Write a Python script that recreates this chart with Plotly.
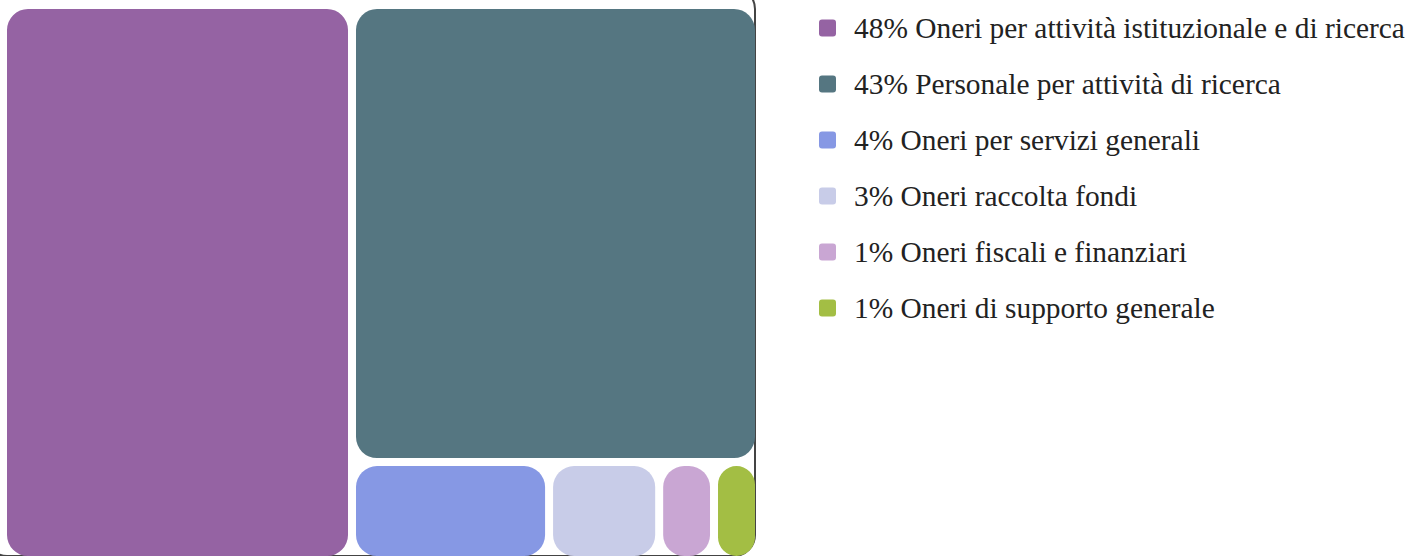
import plotly.graph_objects as go

labels = ["Oneri per attività istituzionale e di ricerca", "Personale per attività di ricerca",
          "Oneri per servizi generali", "Oneri raccolta fondi",
          "Oneri fiscali e finanziari", "Oneri di supporto generale"]
values = [46.16, 44.33, 4.60, 2.57, 1.28, 1.05]
pct_labels = ["48%", "43%", "4%", "3%", "1%", "1%"]
colors = ["#9563A3", "#557681", "#8698E4", "#C8CCE8", "#C9A6D3", "#A3BE44"]

# The treemap's corner radius is capped by the top/left padding, so the page
# is shifted up-left by a few pixels to keep the tiles where the reference has them.
OFF_X, OFF_Y = 14, 12
W, H = 1423 + OFF_X, 556 + OFF_Y

fig = go.Figure(go.Treemap(
    labels=labels,
    parents=[""] * len(labels),
    values=values,
    sort=False,
    textinfo="none",
    hoverinfo="label+value",
    pathbar=dict(visible=False),
    root=dict(color="rgba(0,0,0,0)"),
    marker=dict(colors=colors, cornerradius=21,
                line=dict(width=0, color="rgba(0,0,0,0)"),
                pad=dict(t=21, l=21, r=0, b=0)),
    tiling=dict(pad=8),
    domain=dict(x=[0, (755 + OFF_X) / W], y=[0, 1]),
))


def px(x):
    return (x + OFF_X) / W


def py(y):
    return 1 - (y + OFF_Y) / H


def rounded_square(x0, y0, x1, y1, r):
    return (f"M {px(x0 + r)},{py(y0)} L {px(x1 - r)},{py(y0)} Q {px(x1)},{py(y0)} {px(x1)},{py(y0 + r)} "
            f"L {px(x1)},{py(y1 - r)} Q {px(x1)},{py(y1)} {px(x1 - r)},{py(y1)} "
            f"L {px(x0 + r)},{py(y1)} Q {px(x0)},{py(y1)} {px(x0)},{py(y1 - r)} "
            f"L {px(x0)},{py(y0 + r)} Q {px(x0)},{py(y0)} {px(x0 + r)},{py(y0)} Z")


shapes = []
annotations = []
row0, step = 28, 56
for i, (p, lab, c) in enumerate(zip(pct_labels, labels, colors)):
    yc = row0 + i * step
    shapes.append(dict(type="path", xref="paper", yref="paper",
                       path=rounded_square(819, yc - 8.5, 836, yc + 8.5, 3),
                       fillcolor=c, line=dict(width=0), layer="above"))
    annotations.append(dict(xref="paper", yref="paper", x=px(852), y=py(yc),
                            xanchor="left", yanchor="middle", showarrow=False,
                            text=f"{p} {lab}",
                            font=dict(family="Liberation Serif", size=29.4, color="#222222")))

fig.update_layout(
    width=W, height=H,
    margin=dict(l=0, r=0, t=0, b=0),
    paper_bgcolor="white", plot_bgcolor="white",
    shapes=shapes, annotations=annotations,
    showlegend=False,
)

post = ("document.body.style.margin='0';document.body.style.overflow='hidden';"
        "var gd=document.getElementById('{plot_id}');"
        f"gd.style.marginLeft='-{OFF_X}px';gd.style.marginTop='-{OFF_Y}px';")
fig.write_html("out.html", post_script=post, config=dict(displayModeBar=False))
